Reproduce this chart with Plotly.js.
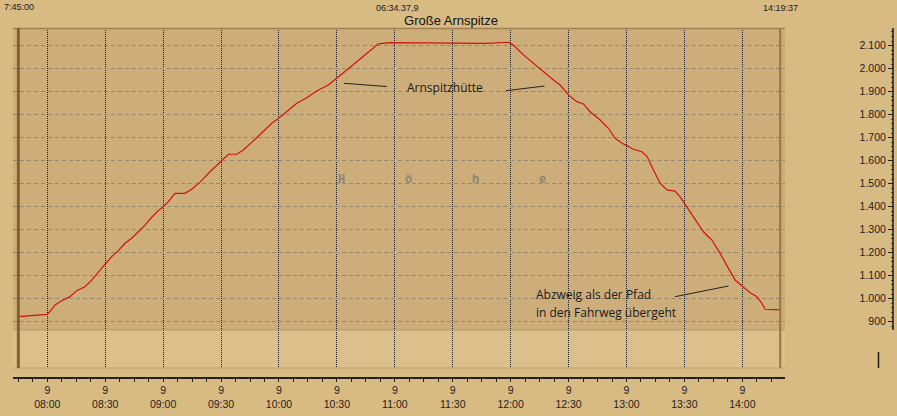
<!DOCTYPE html>
<html>
<head>
<meta charset="utf-8">
<script src="https://cdn.plot.ly/plotly-3.0.1.min.js"></script>
<style>html,body{margin:0;padding:0;background:rgb(216,186,131);}#chart{width:897px;height:416px;}</style>
</head>
<body>
<div id="chart"></div>
<script>
// ---- data ----
const DAY = '2011-06-09';
const times = ['07:45:00','07:50:10','07:55:20','08:00:00','08:02:17','08:04:00','08:07:28','08:11:46','08:15:14','08:19:32',
 '08:23:00','08:26:25','08:30:03','08:33:22','08:36:47','08:40:15','08:43:44','08:47:09','08:50:37','08:54:05',
 '08:57:31','09:00:06','09:02:41','09:06:10','09:11:20','09:14:49','09:19:07','09:24:18','09:30:09','09:33:47',
 '09:38:08','09:41:33','09:46:44','09:51:55','09:56:16','10:00:12','10:04:02','10:09:13','10:14:23','10:19:34',
 '10:25:35','10:30:27','10:35:07','10:40:18','10:45:29','10:51:29','10:57:33','11:13:06','11:30:12','11:47:39',
 '11:58:50','12:01:26','12:06:37','12:11:48','12:16:59','12:22:10','12:25:38','12:29:56','12:34:17','12:37:42',
 '12:41:10','12:46:21','12:50:39','12:54:07','12:58:25','13:00:11','13:03:36','13:07:57','13:10:32','13:13:58',
 '13:17:26','13:20:54','13:25:12','13:27:47','13:30:14','13:34:41','13:39:52','13:44:13','13:48:31','13:52:49',
 '13:56:17','14:00:17','14:04:04','14:07:32','14:10:07','14:11:50','14:16:08','14:19:37'];
const heights = [922,925,929,932,954,973,991,1009,1035,1052,
 1081,1117,1151,1183,1209,1241,1263,1291,1320,1354,
 1383,1400,1422,1458,1458,1476,1507,1552,1599,1628,
 1628,1647,1686,1726,1763,1787,1813,1850,1874,1903,
 1929,1961,1994,2030,2067,2108,2113,2113,2112,2110,
 2115,2103,2060,2023,1987,1951,1929,1886,1857,1847,
 1813,1777,1741,1697,1673,1664,1650,1639,1620,1560,
 1502,1473,1468,1443,1411,1357,1291,1255,1197,1132,
 1081,1052,1026,1009,980,954,954,951];
const xTickTimes = ['08:00','08:30','09:00','09:30','10:00','10:30','11:00','11:30','12:00','12:30','13:00','13:30','14:00'];
const xTickDay = '9';
const yTickVals = [900,1000,1100,1200,1300,1400,1500,1600,1700,1800,1900,2000,2100];
const yTickText = ['900','1.000','1.100','1.200','1.300','1.400','1.500','1.600','1.700','1.800','1.900','2.000','2.100'];
const titleText = 'Große Arnspitze';
const startLabel = '7:45:00', durationLabel = '06:34.37,9', endLabel = '14:19:37';
const startTime = '07:45:00', endTime = '14:19:37';
const note1 = 'Arnspitzhütte';
const note2a = 'Abzweig als der Pfad', note2b = 'in den Fahrweg übergeht';
const axisLetters = ['H','ö','h','e'];

// ---- layout helpers (pixel -> paper) ----
const ML = 13, MR = 4, MT = 28, MB = 39, W = 897, H = 416;
const PW = W - ML - MR, PH = H - MT - MB;
const PX = p => (p - ML) / PW;
const PY = p => (H - MB - p) / PH;

const xs = times.map(t => DAY + ' ' + t);
const xTickVals = xTickTimes.map(t => DAY + ' ' + t + ':00');
const xTickText = xTickTimes.map(t => xTickDay + '<br>' + t);
const yMinor = [];
for (let v = 880; v <= 2170; v += 20) if (v % 100 !== 0) yMinor.push(v);

const font = 'Liberation Sans, Arial, sans-serif';
const noteFont = {family: 'Open Sans, Noto Sans, sans-serif', size: 12, color: '#1a1a1a'};

const trace = {
  x: xs, y: heights, type: 'scatter', mode: 'lines',
  line: {color: 'rgb(210,18,10)', width: 1.2}, hoverinfo: 'skip'
};

const line = (x0, y0, x1, y1, color, width) => ({
  type: 'line', xref: 'paper', yref: 'paper',
  x0: PX(x0), y0: PY(y0), x1: PX(x1), y1: PY(y1),
  line: {color: color, width: width}
});

const shapes = [
  {type: 'rect', xref: 'paper', yref: 'paper', x0: PX(13), x1: PX(785), y0: PY(368), y1: PY(330),
   fillcolor: 'rgb(220,192,140)', line: {width: 0}, layer: 'below'},
  line(13, 330, 785, 330, 'rgb(178,154,110)', 1),
  line(13, 368, 785, 368, 'rgb(190,164,116)', 1),
  line(13, 28.5, 785, 28.5, 'rgb(160,130,82)', 1.5),
  {type: 'line', xref: 'x', yref: 'paper', x0: DAY + ' ' + startTime, x1: DAY + ' ' + startTime,
   y0: PY(368), y1: PY(28), line: {color: 'rgb(130,98,42)', width: 3}},
  {type: 'line', xref: 'x', yref: 'paper', x0: DAY + ' ' + endTime, x1: DAY + ' ' + endTime,
   y0: PY(368), y1: PY(28), line: {color: 'rgb(150,118,66)', width: 2}},
  line(893, 330, 893, 28, '#1a1a1a', 1.5),
  line(878.5, 352, 878.5, 368, '#1a1a1a', 1.5),
  line(344, 83.3, 386.7, 86.5, '#222', 1),
  line(506, 90.7, 544.5, 86, '#222', 1),
  line(675, 296.7, 728.5, 286, '#222', 1)
];

const ann = (text, x, y, f, xanchor) => ({
  text: text, xref: 'paper', yref: 'paper', x: PX(x), y: PY(y),
  xanchor: xanchor || 'center', yanchor: 'middle', showarrow: false, font: f
});
const smallFont = {family: font, size: 9, color: '#222'};
const letterFont = {family: 'Liberation Mono, DejaVu Sans Mono, monospace', size: 12, color: 'rgb(140,132,118)', weight: 'bold'};
const letterX = [341, 408, 475, 542];

const annotations = [
  ann(startLabel, 18.5, 7, smallFont),
  ann(durationLabel, 397, 7.5, smallFont),
  ann(endLabel, 780.5, 7.5, smallFont),
  ann(note1, 445, 87, noteFont),
  ann(note2a, 534, 294, noteFont, 'left'),
  ann(note2b, 534, 312, noteFont, 'left')
].concat(axisLetters.map((l, i) => ann(l, letterX[i], 180, letterFont)));

const layout = {
  width: W, height: H,
  margin: {l: ML, r: MR, t: MT, b: MB, pad: 0},
  paper_bgcolor: 'rgb(216,186,131)',
  plot_bgcolor: 'rgb(205,174,122)',
  showlegend: false,
  title: {text: titleText, font: {family: font, size: 13, color: '#111'},
          x: 451 / W, xref: 'container', xanchor: 'center', y: 1 - 20.5 / H, yref: 'container', yanchor: 'middle'},
  xaxis: {
    type: 'date', domain: [0, PX(785)], anchor: 'free', position: 0,
    range: [DAY + ' 07:42:14', DAY + ' 14:22:06'],
    tickmode: 'array', tickvals: xTickVals, ticktext: xTickText,
    ticks: 'outside', ticklen: 3, tickwidth: 1, tickcolor: '#222',
    showline: true, linecolor: '#222', linewidth: 1.5,
    showgrid: true, gridcolor: '#1a1a1a', gridwidth: 1, griddash: '1px,1px',
    zeroline: false,
    tickfont: {family: font, size: 10.5, color: '#222'},
    minor: {dtick: 450000, tick0: DAY + ' 07:45:00', ticks: 'outside', ticklen: 3, tickcolor: '#222', showgrid: false}
  },
  yaxis: {
    range: [698.7, 2177], domain: [PY(368), 1], anchor: 'free', position: 1, side: 'left',
    tickmode: 'array', tickvals: yTickVals, ticktext: yTickText,
    ticks: 'outside', ticklen: 5, tickwidth: 1, tickcolor: '#222',
    showline: false, zeroline: false,
    showgrid: true, gridcolor: 'rgb(150,136,112)', gridwidth: 1, griddash: '4px,3px',
    tickfont: {family: font, size: 10.5, color: '#222'},
    minor: {tickmode: 'array', tickvals: yMinor, ticks: 'outside', ticklen: 2, tickcolor: '#444', showgrid: false}
  },
  shapes: shapes,
  annotations: annotations
};

Plotly.newPlot('chart', [trace], layout, {staticPlot: true, displayModeBar: false});
</script>
</body>
</html>
